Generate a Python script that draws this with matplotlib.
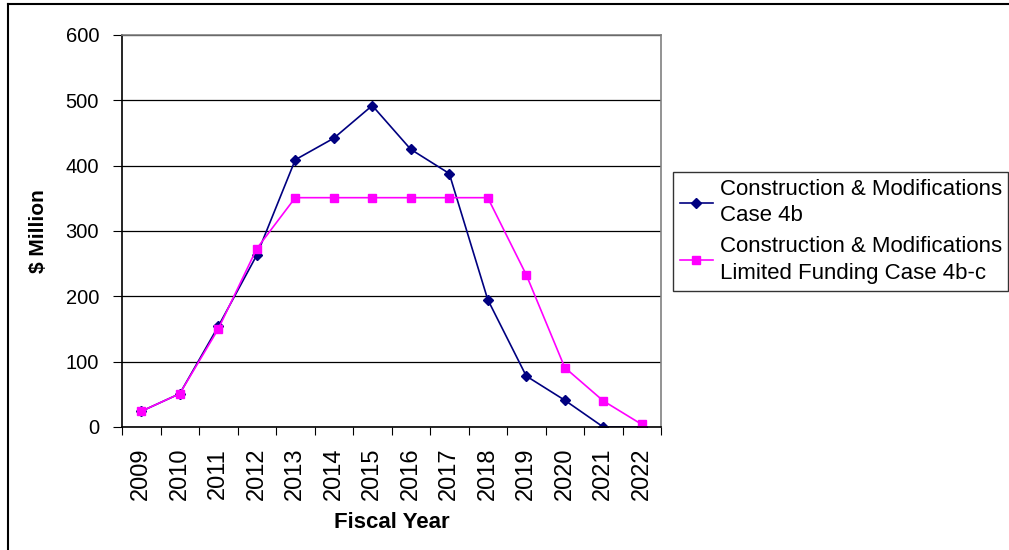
import matplotlib
matplotlib.use('Agg')
from matplotlib import pyplot as plt
from matplotlib.lines import Line2D

plt.rcParams['font.family'] = ['Liberation Sans', 'DejaVu Sans']

years = ['2009', '2010', '2011', '2012', '2013', '2014', '2015',
         '2016', '2017', '2018', '2019', '2020', '2021', '2022']
case_4b = [24, 51, 154, 263, 409, 442, 492, 425, 388, 195, 78, 41, 0, 0]
case_4bc = [24, 51, 150, 273, 351, 351, 351, 351, 351, 351, 233, 91, 40, 4]
labels = ['Construction & Modifications\nCase 4b',
          'Construction & Modifications\nLimited Funding Case 4b-c']

fig = plt.figure(figsize=(10.09, 5.5), dpi=100)
ax = fig.add_axes([122/1009, 1-427/550, 539/1009, 392/550])

x = list(range(len(years)))
ax.plot(x, case_4b, color='#000080', marker='D', markersize=5, lw=1.2, label=labels[0])
ax.plot(x, case_4bc, color='#ff00ff', marker='s', markersize=6, lw=1.2, label=labels[1])

ax.set_xlim(-0.5, len(years) - 0.5)
ax.set_ylim(0, 600)
ax.set_yticks(range(0, 601, 100))
ax.set_xticks([i + 0.5 for i in range(-1, len(years))], minor=False)
ax.set_xticklabels([])
ax.set_xticks(x, minor=True)
ax.set_xticklabels(years, minor=True, rotation=90, fontsize=17)
ax.tick_params(axis='x', which='minor', length=0, pad=15)
ax.tick_params(axis='x', which='major', length=6, direction='out', color='black')
ax.tick_params(axis='y', length=6.5, direction='out', labelsize=14.5, pad=10)

ax.grid(axis='y', color='black', lw=0.9)
ax.set_axisbelow(True)
for side in ['top', 'right']:
    ax.spines[side].set_color('#808080')
    ax.spines[side].set_linewidth(1.2)
ax.spines['left'].set_linewidth(1.2)
ax.spines['bottom'].set_linewidth(1.2)

ax.set_xlabel('Fiscal Year', fontsize=16, fontweight='bold', labelpad=8)
ax.set_ylabel('$ Million', fontsize=15, fontweight='bold', labelpad=13)

leg = fig.legend(loc='upper left', bbox_to_anchor=(673/1009, 1-172/550),
                 fontsize=16, frameon=True, fancybox=False, edgecolor='black',
                 handlelength=1.5, handletextpad=0.3, labelspacing=0.45,
                 borderpad=0.3, borderaxespad=0)
leg.get_frame().set_linewidth(1.0)
for t in leg.get_texts():
    t.set_linespacing(1.35)

# outer border of the chart (top and left)
fig.add_artist(Line2D([8/1009, 1], [1-4/550, 1-4/550], color='black', lw=1.5))
fig.add_artist(Line2D([8/1009, 8/1009], [0, 1-4/550], color='black', lw=1.5))

fig.savefig('out.png', dpi=100)
